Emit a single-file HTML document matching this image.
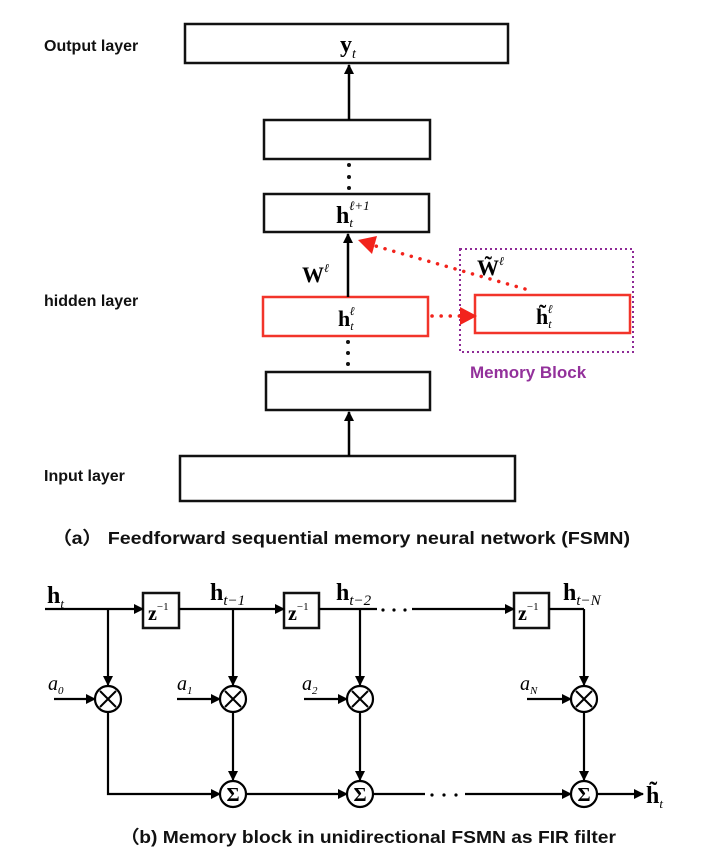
<!DOCTYPE html>
<html><head><meta charset="utf-8"><style>
html,body{margin:0;padding:0;background:#fff;}
svg{display:block;}
.lab{font-family:"Liberation Sans",sans-serif;font-weight:bold;font-size:16px;fill:#111;}
.cap{font-family:"Liberation Sans",sans-serif;font-weight:bold;font-size:17.5px;fill:#111;}
.m{font-family:"Liberation Serif",serif;font-weight:bold;fill:#000;}
.i{font-family:"Liberation Serif",serif;font-style:italic;fill:#000;}
</style></head><body>
<svg width="705" height="861" viewBox="0 0 705 861" xmlns="http://www.w3.org/2000/svg">
<defs>
<marker id="a" markerWidth="10" markerHeight="10" refX="9" refY="5" orient="auto" markerUnits="userSpaceOnUse"><path d="M0,0 L10,5 L0,10 z" fill="#000"/></marker>
</defs>
<g fill="none" stroke="#111" stroke-width="2.5">
<rect x="185" y="24" width="323" height="39"/>
<rect x="264" y="120" width="166" height="39"/>
<rect x="264" y="194" width="165" height="38"/>
<rect x="266" y="372" width="164" height="38"/>
<rect x="180" y="456" width="335" height="45"/>
</g>
<g fill="none" stroke="#f2342a" stroke-width="2.5">
<rect x="263" y="297" width="165" height="39"/>
<rect x="475" y="295" width="155" height="38"/>
</g>
<rect x="460" y="249" width="173" height="103" fill="none" stroke="#8e2a96" stroke-width="2" stroke-dasharray="2,3"/>
<g stroke="#000" stroke-width="2.5">
<line x1="349" y1="120" x2="349" y2="65" marker-end="url(#a)"/>
<line x1="348" y1="297" x2="348" y2="234" marker-end="url(#a)"/>
<line x1="349" y1="456" x2="349" y2="412" marker-end="url(#a)"/>
</g>
<g fill="#111">
<circle cx="349" cy="165" r="2"/><circle cx="349" cy="177" r="2"/><circle cx="349" cy="188" r="2"/>
<circle cx="348" cy="342" r="2"/><circle cx="348" cy="353" r="2"/><circle cx="348" cy="364" r="2"/>
</g>
<g stroke="#f2231c" stroke-width="3.5" stroke-linecap="round" stroke-dasharray="0.1,9" fill="none">
<line x1="432" y1="316" x2="462" y2="316"/>
<line x1="525" y1="289" x2="372" y2="245"/>
</g>
<path d="M460,307 L477,316 L460,325 z" fill="#f2231c"/>
<path d="M358,240 L377,236 L372,254 z" fill="#f2231c"/>
<text class="lab" x="44" y="51">Output layer</text>
<text class="lab" x="44" y="306">hidden layer</text>
<text class="lab" x="44" y="481">Input layer</text>
<text class="lab" x="470" y="378" style="fill:#93319b;font-size:17px">Memory  Block</text>
<text class="m" x="340" y="52" font-size="24">y<tspan class="i" font-size="14" font-weight="normal" dy="6">t</tspan></text>
<text class="m" x="336" y="223" font-size="24">h<tspan class="i" font-size="13" font-weight="normal" dy="4">t</tspan><tspan class="i" font-size="13" font-weight="normal" dx="-4" dy="-17">ℓ+1</tspan></text>
<text class="m" x="338" y="326" font-size="22">h<tspan class="i" font-size="12" font-weight="normal" dy="4">t</tspan><tspan class="i" font-size="12" font-weight="normal" dx="-4" dy="-15">ℓ</tspan></text>
<text class="m" x="536" y="324" font-size="22">h̃<tspan class="i" font-size="12" font-weight="normal" dy="4">t</tspan><tspan class="i" font-size="12" font-weight="normal" dx="-4" dy="-15">ℓ</tspan></text>
<text class="m" x="302" y="282" font-size="22">W<tspan class="i" font-size="12" font-weight="normal" dy="-10">ℓ</tspan></text>
<text class="m" x="477" y="275" font-size="22">W̃<tspan class="i" font-size="12" font-weight="normal" dy="-10">ℓ</tspan></text>
<text class="cap" x="52" y="544" textLength="578" lengthAdjust="spacingAndGlyphs">（a） Feedforward sequential memory neural network (FSMN)</text>
<g fill="none" stroke="#111" stroke-width="2.5">
<rect x="143" y="593" width="36" height="35"/>
<rect x="284" y="593" width="35" height="35"/>
<rect x="514" y="593" width="35" height="35"/>
</g>
<g stroke="#000" stroke-width="2.2" fill="none">
<line x1="45" y1="609" x2="143" y2="609" marker-end="url(#a)"/>
<line x1="179" y1="609" x2="284" y2="609" marker-end="url(#a)"/>
<line x1="319" y1="609" x2="377" y2="609"/>
<line x1="412" y1="609" x2="514" y2="609" marker-end="url(#a)"/>
<line x1="549" y1="609" x2="584" y2="609"/>
<line x1="108" y1="609" x2="108" y2="685" marker-end="url(#a)"/>
<line x1="233" y1="609" x2="233" y2="685" marker-end="url(#a)"/>
<line x1="360" y1="609" x2="360" y2="685" marker-end="url(#a)"/>
<line x1="584" y1="609" x2="584" y2="685" marker-end="url(#a)"/>
<line x1="54" y1="699" x2="95" y2="699" marker-end="url(#a)"/>
<line x1="177" y1="699" x2="220" y2="699" marker-end="url(#a)"/>
<line x1="304" y1="699" x2="347" y2="699" marker-end="url(#a)"/>
<line x1="527" y1="699" x2="571" y2="699" marker-end="url(#a)"/>
<line x1="233" y1="712" x2="233" y2="780" marker-end="url(#a)"/>
<line x1="360" y1="712" x2="360" y2="780" marker-end="url(#a)"/>
<line x1="584" y1="712" x2="584" y2="780" marker-end="url(#a)"/>
<polyline points="108,712 108,794 220,794" marker-end="url(#a)"/>
<line x1="246" y1="794" x2="347" y2="794" marker-end="url(#a)"/>
<line x1="373" y1="794" x2="425" y2="794"/>
<line x1="465" y1="794" x2="571" y2="794" marker-end="url(#a)"/>
<line x1="597" y1="794" x2="643" y2="794" marker-end="url(#a)"/>
</g>
<g fill="#000"><circle cx="383" cy="610" r="1.6"/><circle cx="394" cy="610" r="1.6"/><circle cx="405" cy="610" r="1.6"/>
<circle cx="432" cy="795" r="1.6"/><circle cx="444" cy="795" r="1.6"/><circle cx="456" cy="795" r="1.6"/></g>
<g fill="#fff" stroke="#000" stroke-width="2.2">
<circle cx="108" cy="699" r="13"/><circle cx="233" cy="699" r="13"/><circle cx="360" cy="699" r="13"/><circle cx="584" cy="699" r="13"/>
<circle cx="233" cy="794" r="13"/><circle cx="360" cy="794" r="13"/><circle cx="584" cy="794" r="13"/>
</g>
<g stroke="#000" stroke-width="2">
<path d="M100,691 L116,707 M116,691 L100,707"/><path d="M225,691 L241,707 M241,691 L225,707"/>
<path d="M352,691 L368,707 M368,691 L352,707"/><path d="M576,691 L592,707 M592,691 L576,707"/>
</g>
<g class="m" font-size="20" font-weight="normal" text-anchor="middle">
<text x="233" y="801">Σ</text><text x="360" y="801">Σ</text><text x="584" y="801">Σ</text>
</g>
<g class="m" font-size="20">
<text x="148" y="620">z<tspan font-size="11" font-weight="normal" dy="-10">−1</tspan></text>
<text x="288" y="620">z<tspan font-size="11" font-weight="normal" dy="-10">−1</tspan></text>
<text x="518" y="620">z<tspan font-size="11" font-weight="normal" dy="-10">−1</tspan></text>
</g>
<text class="m" x="47" y="603" font-size="24">h<tspan class="i" font-size="13" font-weight="normal" dy="5">t</tspan></text>
<text class="m" x="210" y="600" font-size="24">h<tspan class="i" font-size="15" font-weight="normal" dy="5">t−1</tspan></text>
<text class="m" x="336" y="600" font-size="24">h<tspan class="i" font-size="15" font-weight="normal" dy="5">t−2</tspan></text>
<text class="m" x="563" y="600" font-size="24">h<tspan class="i" font-size="15" font-weight="normal" dy="5">t−N</tspan></text>
<text class="i" x="48" y="690" font-size="20">a<tspan font-size="11" dy="4">0</tspan></text>
<text class="i" x="177" y="690" font-size="20">a<tspan font-size="11" dy="4">1</tspan></text>
<text class="i" x="302" y="690" font-size="20">a<tspan font-size="11" dy="4">2</tspan></text>
<text class="i" x="520" y="690" font-size="20">a<tspan font-size="11" dy="4">N</tspan></text>
<text class="m" x="646" y="803" font-size="24">h̃<tspan class="i" font-size="13" font-weight="normal" dy="5">t</tspan></text>
<text class="cap" x="120" y="843" textLength="496" lengthAdjust="spacingAndGlyphs">（b) Memory block in unidirectional  FSMN as FIR filter</text>
</svg>
</body></html>
